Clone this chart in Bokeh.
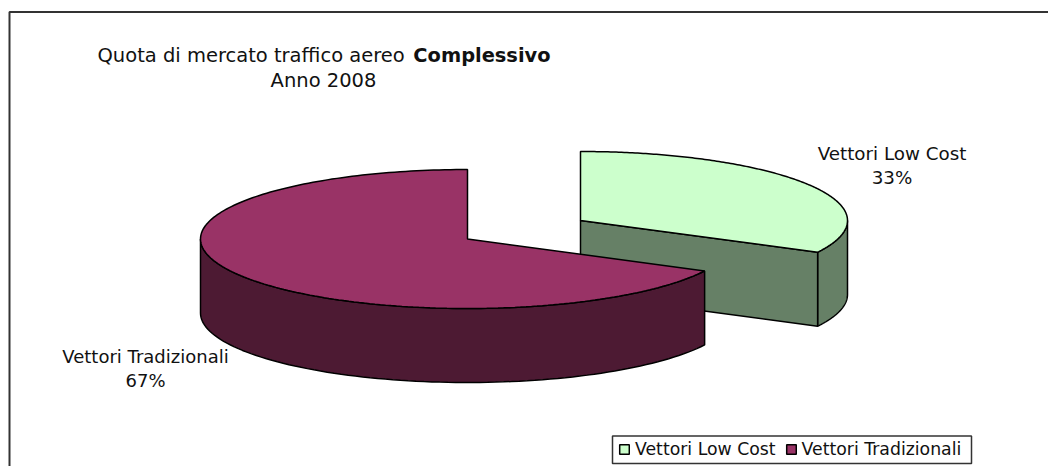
import numpy as np
from bokeh.plotting import figure
from bokeh.models import Range1d, Legend, LegendItem
from bokeh.core.properties import value
from bokeh.embed import file_html
from bokeh.resources import INLINE

categories = ["Vettori Low Cost", "Vettori Tradizionali"]
shares = [32.6, 67.4]
share_labels = ["33%", "67%"]
title_regular = "Quota di mercato traffico aereo"
title_bold = "Complessivo"
title_line2 = "Anno 2008"

top_colors = ["#CCFFCC", "#993366"]
side_colors = ["#668066", "#4D1A33"]
FONT = "DejaVu Sans"
W, H = 1048, 466

RX, DEPTH = 267, 74
radii_y = [69, 69.5]
centers = [(580, 220), (467, 238.5)]
LW = 1.5


def arc(cx, cy, ry, t0, t1, n=90, dy=0):
    t = np.radians(np.linspace(t0, t1, n))
    return cx + RX * np.sin(t), cy - ry * np.cos(t) + dy


p = figure(width=W, height=H, output_backend="svg", toolbar_location=None,
           x_range=Range1d(0, W), y_range=Range1d(H, 0), x_axis_type=None, y_axis_type=None,
           min_border=0, outline_line_color=None, background_fill_color="white",
           border_fill_color="white")
p.grid.visible = False

# frame: left and top edges only, the rest is cut off by the picture
p.line([9, 9, W], [H, 11.5, 11.5], line_color="#333333", line_width=2)

angles = np.cumsum([0] + shares) * 3.6
renderers = []
for i in range(2):
    cx, cy = centers[i]
    ry = radii_y[i]
    t0, t1 = angles[i], angles[i + 1]
    if i == 0:
        ax, ay = arc(cx, cy, ry, 90, t1)
        bx, by = arc(cx, cy, ry, t1, 90, dy=DEPTH)
        p.patch(list(ax) + list(bx), list(ay) + list(by), fill_color=side_colors[i],
                line_color="black", line_width=LW)
        ex, ey = arc(cx, cy, ry, t1, t1, n=1)
        p.patch([cx, ex[0], ex[0], cx], [cy, ey[0], ey[0] + DEPTH, cy + DEPTH],
                fill_color=side_colors[i], line_color="black", line_width=LW)
    else:
        ax, ay = arc(cx, cy, ry, t0, 270)
        bx, by = arc(cx, cy, ry, 270, t0, dy=DEPTH)
        p.patch(list(ax) + list(bx), list(ay) + list(by), fill_color=side_colors[i],
                line_color="black", line_width=LW)
    tx, ty = arc(cx, cy, ry, t0, t1, n=200)
    r = p.patch([cx] + list(tx), [cy] + list(ty), fill_color=top_colors[i],
                line_color="black", line_width=LW)
    renderers.append(r)

# title
p.text([97], [55], text=[title_regular], text_font=value(FONT), text_font_size="19.5px",
       text_color="#111111", text_baseline="middle", text_align="left")
p.text([550], [55], text=[title_bold], text_font=value(FONT), text_font_size="19.4px",
       text_font_style="bold", text_color="#111111", text_baseline="middle", text_align="right")
p.text([323], [80], text=[title_line2], text_font=value(FONT), text_font_size="19.5px",
       text_color="#111111", text_baseline="middle", text_align="center")

# data labels
p.text([891.5, 891.5], [153, 177], text=[categories[0], share_labels[0]], text_font=value(FONT),
       text_font_size="18.3px", text_color="#111111", text_baseline="middle", text_align="center")
p.text([145, 145], [356, 380], text=[categories[1], share_labels[1]], text_font=value(FONT),
       text_font_size="18px", text_color="#111111", text_baseline="middle", text_align="center")

# legend box
p.quad(left=[612], right=[971], top=[435.5], bottom=[463], fill_color="white",
       line_color="#333333", line_width=1.5)

legend = Legend(items=[LegendItem(label=categories[i], renderers=[renderers[i]]) for i in range(2)],
                orientation="horizontal", location=(618, 7), border_line_color=None,
                background_fill_alpha=0,
                label_text_font=FONT, label_text_font_size="17.3px", label_text_color="#111111",
                glyph_width=12, glyph_height=12, padding=0, spacing=9, margin=0,
                label_standoff=5, label_height=14)
p.add_layout(legend, "center")

open("out.html", "w").write(file_html(p, INLINE))
